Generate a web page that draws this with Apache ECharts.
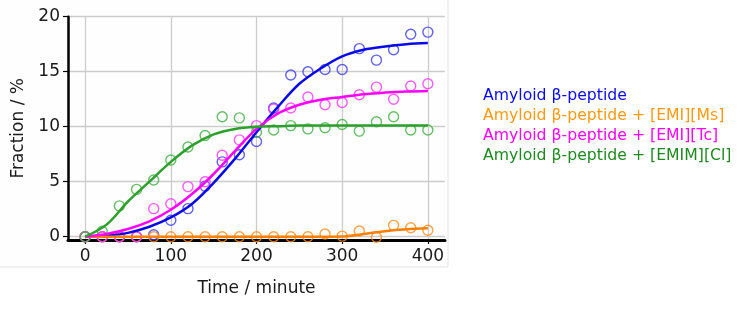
<!DOCTYPE html>
<html>
<head>
<meta charset="utf-8">
<script src="https://cdn.jsdelivr.net/npm/echarts@6/dist/echarts.min.js"></script>
<style>
html,body{margin:0;padding:0;background:#fff;}
#chart{width:750px;height:310px;}
</style>
</head>
<body>
<div id="chart"></div>
<script>
// ---- data ----
var seriesNames = ['Amyloid β-peptide', 'Amyloid β-peptide + [EMI][Ms]', 'Amyloid β-peptide + [EMI][Tc]', 'Amyloid β-peptide + [EMIM][Cl]'];
var xTickValues = [0, 100, 200, 300, 400];
var yTickValues = [0, 5, 10, 15, 20];
var timePoints = [0, 20, 40, 60, 80, 100, 120, 140, 160, 180, 200, 220, 240, 260, 280, 300, 320, 340, 360, 380, 400];
var bluePoints = [0, 0, 0, 0, 0.18, 1.5, 2.55, 4.6, 6.8, 7.45, 8.65, 11.7, 14.7, 15.0, 15.2, 15.2, 17.1, 16.05, 17.0, 18.4, 18.6];
var orangePoints = [0, 0, 0, 0, 0, 0, 0, 0, 0, 0, 0, 0, 0, 0, 0.25, 0.05, 0.52, -0.05, 1.03, 0.82, 0.58];
var magentaPoints = [0, 0, 0, 0, 2.55, 3.0, 4.55, 5.0, 7.4, 8.8, 10.1, 11.6, 11.7, 12.7, 12.0, 12.2, 12.9, 13.6, 12.5, 13.7, 13.9];
var greenPoints = [0, 0.5, 2.8, 4.3, 5.15, 6.97, 8.15, 9.2, 10.9, 10.8, 9.5, 9.7, 10.1, 9.8, 9.9, 10.2, 9.6, 10.45, 10.9, 9.7, 9.7];
var fitTimes = [0, 25, 50, 75, 100, 125, 150, 175, 200, 225, 250, 275, 300, 325, 350, 375, 400];
var blueFit = [0, 0.1, 0.35, 0.9, 1.75, 3.0, 4.9, 7.1, 9.5, 11.8, 13.9, 15.3, 16.4, 17.0, 17.3, 17.5, 17.6];
var orangeFit = [0, 0, 0, 0, 0, 0, 0, 0, 0, 0, 0, 0, 0.02, 0.25, 0.5, 0.67, 0.77];
var magentaFit = [0, 0.25, 0.7, 1.4, 2.45, 3.9, 5.7, 7.8, 9.8, 11.2, 12.0, 12.45, 12.7, 12.95, 13.1, 13.2, 13.25];
var greenFit = [0, 1.1, 3.2, 5.0, 6.8, 8.3, 9.3, 9.8, 10.0, 10.05, 10.1, 10.1, 10.1, 10.1, 10.1, 10.1, 10.1];

var lineColors = ['#0a0ae8', '#ff8000', '#ff00ff', '#2ca02c'];
var markColors = ['#3a3af0', '#ff8c1a', '#ff33ff', '#3fae3f'];
var legendColors = ['#0a0af0', '#ff9a10', '#ff00ff', '#1e8a1e'];

function pairs(xs, ys) { return xs.map(function (x, i) { return [x, ys[i]]; }); }

var pointSets = [bluePoints, orangePoints, magentaPoints, greenPoints];
var fitSets = [blueFit, orangeFit, magentaFit, greenFit];

var series = [];
for (var i = 0; i < 4; i++) {
  series.push({
    name: seriesNames[i], type: 'scatter', data: pairs(timePoints, pointSets[i]),
    symbol: 'circle', symbolSize: 10, z: 3,
    itemStyle: { color: 'rgba(0,0,0,0)', borderColor: markColors[i], borderWidth: 1.4 }
  });
}
for (var j = 0; j < 4; j++) {
  series.push({
    name: seriesNames[j], type: 'line', data: pairs(fitTimes, fitSets[j]),
    showSymbol: false, smooth: 0.35, z: 4,
    lineStyle: { color: lineColors[j], width: 2.5 }, itemStyle: { color: lineColors[j] }
  });
}

var chart = echarts.init(document.getElementById('chart'), null, { renderer: 'canvas' });
chart.setOption({
  animation: false,
  backgroundColor: '#ffffff',
  graphic: [{
    type: 'rect', z: -10, silent: true,
    shape: { x: -1, y: -1, width: 449, height: 268 },
    style: { fill: '#fefefe', stroke: '#e4e4e4', lineWidth: 1 }
  }],
  grid: { left: 68, right: 305, top: 16.7, bottom: 70 },
  legend: {
    orient: 'vertical', left: 473, top: 81, icon: 'none', itemWidth: 0, itemHeight: 20, itemGap: 0,
    selectedMode: false,
    textStyle: { fontFamily: 'DejaVu Sans', fontSize: 15.7, lineHeight: 20 },
    data: seriesNames.map(function (n, k) { return { name: n, textStyle: { color: legendColors[k] } }; })
  },
  xAxis: {
    type: 'value', min: -20, max: 420,
    name: 'Time / minute', nameLocation: 'middle', nameGap: 40,
    nameTextStyle: { fontFamily: 'DejaVu Sans', fontSize: 17, color: '#1a1a1a' },
    axisLine: { onZero: false, lineStyle: { color: '#000', width: 3 } },
    axisTick: { show: true, length: 4, customValues: xTickValues, lineStyle: { color: '#000', width: 1.2 } },
    axisLabel: { customValues: xTickValues, fontFamily: 'DejaVu Sans', fontSize: 17, color: '#1a1a1a', margin: 8 },
    splitLine: { show: true, lineStyle: { color: '#cccccc', width: 1.3 } }
  },
  yAxis: {
    type: 'value', min: -0.3, max: 20,
    name: 'Fraction / %', nameLocation: 'middle', nameGap: 38,
    nameTextStyle: { fontFamily: 'DejaVu Sans', fontSize: 17, color: '#1a1a1a' },
    axisLine: { show: true, onZero: false, lineStyle: { color: '#000', width: 2.5 } },
    axisTick: { show: true, length: 5, customValues: yTickValues, lineStyle: { color: '#000', width: 1.2 } },
    axisLabel: { customValues: yTickValues, fontFamily: 'DejaVu Sans', fontSize: 17, color: '#1a1a1a', margin: 8 },
    splitLine: { show: true, lineStyle: { color: '#cccccc', width: 1.3 } }
  },
  series: series
});
</script>
</body>
</html>
